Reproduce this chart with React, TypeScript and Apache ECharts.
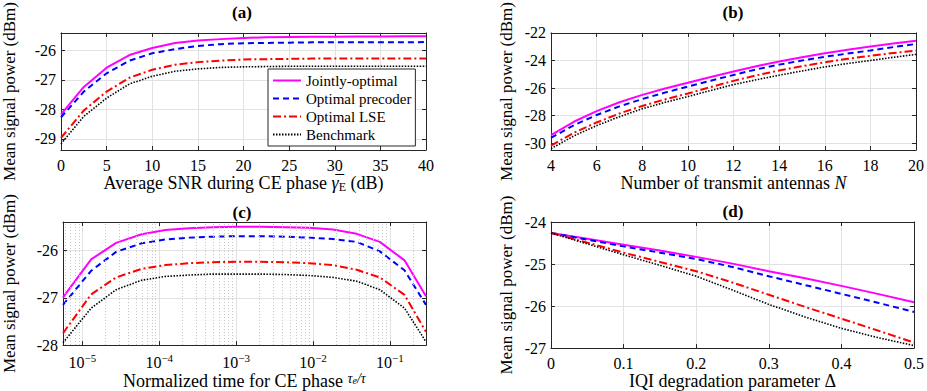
import React, { useEffect, useRef } from 'react';
import * as echarts from 'echarts';

const FONT = "'Liberation Serif', 'Times New Roman', Times, serif";
const AXIS_COLOR = '#262626';
const GRID_COLOR = '#e2e2e2';

// ---------- Panel (a): average SNR during CE phase (dB)
const snrDb = [0, 2.5, 5, 7.5, 10, 12.5, 15, 17.5, 20, 22.5, 25, 27.5, 30, 32.5, 35, 37.5, 40];
const aJoint = [-28.17, -27.24, -26.59, -26.16, -25.92, -25.75, -25.67, -25.62, -25.58, -25.56, -25.55, -25.54, -25.54, -25.53, -25.53, -25.52, -25.52];
const aPrecoder = [-28.27, -27.4, -26.78, -26.35, -26.1, -25.96, -25.85, -25.79, -25.76, -25.75, -25.74, -25.73, -25.73, -25.73, -25.73, -25.73, -25.72];
const aLse = [-28.97, -28.04, -27.4, -26.93, -26.66, -26.49, -26.4, -26.35, -26.31, -26.3, -26.29, -26.28, -26.28, -26.28, -26.28, -26.28, -26.28];
const aBench = [-29.17, -28.24, -27.62, -27.14, -26.88, -26.71, -26.63, -26.58, -26.56, -26.55, -26.54, -26.54, -26.54, -26.54, -26.54, -26.54, -26.54];

// ---------- Panel (b): number of transmit antennas N
const antennas = [4, 5, 6, 7, 8, 9, 10, 11, 12, 13, 14, 15, 16, 17, 18, 19, 20];
const bJoint = [-29.42, -28.45, -27.68, -27.03, -26.5, -26.03, -25.62, -25.2, -24.8, -24.42, -24.07, -23.76, -23.47, -23.22, -22.99, -22.77, -22.56];
const bPrecoder = [-29.62, -28.7, -27.96, -27.33, -26.8, -26.33, -25.9, -25.47, -25.05, -24.65, -24.3, -24.0, -23.73, -23.5, -23.27, -23.03, -22.8];
const bLse = [-30.18, -29.25, -28.5, -27.85, -27.3, -26.83, -26.4, -25.93, -25.48, -25.08, -24.73, -24.42, -24.13, -23.88, -23.66, -23.46, -23.28];
const bBench = [-30.4, -29.48, -28.73, -28.08, -27.51, -27.04, -26.62, -26.18, -25.75, -25.4, -25.07, -24.76, -24.47, -24.22, -24.0, -23.77, -23.56];

// ---------- Panel (c): normalized time for CE phase (log scale)
const timeRatio = [5.6e-6, 1.3e-5, 2.75e-5, 5.9e-5, 1.2e-4, 2.45e-4, 5.0e-4, 1.02e-3, 2.1e-3, 4.4e-3, 8.9e-3, 1.82e-2, 3.7e-2, 7.4e-2, 1.55e-1, 2.95e-1];
const cJoint = [-26.99, -26.19, -25.84, -25.66, -25.57, -25.53, -25.51, -25.5, -25.5, -25.51, -25.52, -25.56, -25.65, -25.82, -26.21, -26.97];
const cPrecoder = [-27.15, -26.43, -26.03, -25.85, -25.77, -25.73, -25.71, -25.7, -25.7, -25.71, -25.73, -25.76, -25.82, -26.02, -26.42, -27.15];
const cLse = [-27.75, -26.93, -26.57, -26.39, -26.31, -26.27, -26.25, -26.24, -26.24, -26.25, -26.27, -26.31, -26.41, -26.57, -26.94, -27.72];
const cBench = [-27.95, -27.22, -26.83, -26.63, -26.55, -26.52, -26.5, -26.5, -26.5, -26.51, -26.53, -26.57, -26.65, -26.83, -27.22, -27.93];

// ---------- Panel (d): IQI degradation parameter
const iqiDelta = [0, 0.05, 0.1, 0.15, 0.2, 0.25, 0.3, 0.35, 0.4, 0.45, 0.5];
const dJoint = [-24.26, -24.4, -24.54, -24.68, -24.83, -24.99, -25.17, -25.34, -25.52, -25.71, -25.91];
const dPrecoder = [-24.26, -24.42, -24.58, -24.73, -24.88, -25.07, -25.29, -25.5, -25.71, -25.92, -26.14];
const dLse = [-24.26, -24.49, -24.73, -24.95, -25.17, -25.44, -25.73, -26.02, -26.3, -26.58, -26.87];
const dBench = [-24.26, -24.52, -24.78, -25.03, -25.29, -25.62, -25.96, -26.26, -26.53, -26.75, -26.94];

const seriesNames = ['Jointly-optimal', 'Optimal precoder', 'Optimal LSE', 'Benchmark'];
const seriesColors = ['#ff00ff', '#0000ff', '#ff0000', '#000000'];
const seriesDash: any[] = ['solid', [6, 4], [8, 3, 2, 3], [1.5, 1.5]];
const seriesWidth = [2, 2, 2, 1.6];

const panelTitles = ['(a)', '(b)', '(c)', '(d)'];

const grids = [
  { left: 60, top: 22, width: 366, height: 128 },
  { left: 551, top: 22, width: 366, height: 128 },
  { left: 60, top: 222, width: 366, height: 129 },
  { left: 551, top: 222, width: 366, height: 128 },
];

const titlePos = [
  [242, 12.5],
  [733, 12.5],
  [242, 212.5],
  [733, 211.5],
];

function buildOption() {
  const tick = { show: true, inside: true, length: 4, lineStyle: { color: AXIS_COLOR, width: 1 } };
  const line = { show: true, onZero: false, lineStyle: { color: AXIS_COLOR, width: 1 } };
  const labelText = { fontFamily: FONT, fontSize: 16, color: '#000' };
  const nameText = { fontFamily: FONT, fontSize: 18, color: '#000' };
  const split = { show: true, lineStyle: { color: GRID_COLOR, width: 1 } };
  const intOnly = (v: number) => (Math.abs(v - Math.round(v)) < 1e-6 ? String(Math.round(v)) : '');

  const xAxes: any[] = [];
  const yAxes: any[] = [];

  const addX = (gi: number, base: any, bottomExtra: any) => {
    xAxes.push({
      gridIndex: gi, position: 'bottom', ...base,
      axisLine: line, axisTick: tick, splitLine: split,
      axisLabel: { ...labelText, margin: 7, ...(bottomExtra.axisLabel || {}) },
      nameLocation: 'middle', nameTextStyle: { ...nameText, ...(bottomExtra.nameTextStyle || {}) },
      name: bottomExtra.name, nameGap: bottomExtra.nameGap,
    });
    xAxes.push({
      gridIndex: gi, position: 'top', ...base,
      axisLine: line, axisTick: tick, splitLine: { show: false }, axisLabel: { show: false },
    });
  };
  const addY = (gi: number, base: any, nameGap: number) => {
    yAxes.push({
      gridIndex: gi, position: 'left', type: 'value', ...base,
      axisLine: line, axisTick: tick, splitLine: split,
      axisLabel: { ...labelText, margin: 5, formatter: intOnly },
      name: 'Mean signal power (dBm)', nameLocation: 'middle', nameGap,
      nameTextStyle: { fontFamily: FONT, fontSize: 17, color: '#000' },
    });
    yAxes.push({
      gridIndex: gi, position: 'right', type: 'value', ...base,
      axisLine: line, axisTick: tick, splitLine: { show: false }, axisLabel: { show: false },
    });
  };

  // (a)
  addX(0, { type: 'value', min: 0, max: 40, interval: 5 }, {
    name: '{n|Average SNR during CE phase }{g|\u03B3\u0305}{s|E}{n| (dB)}',
    nameGap: 18,
    nameTextStyle: {
      rich: {
        n: { fontFamily: FONT, fontSize: 18, color: '#000' },
        g: { fontFamily: FONT, fontSize: 18, fontStyle: 'italic', color: '#000' },
        s: { fontFamily: FONT, fontSize: 12, color: '#000', padding: [9, 0, 0, 0] },
      },
    },
  });
  addY(0, { min: -29.38, max: -25.41, minInterval: 1, maxInterval: 1 }, 43);

  // (b)
  addX(1, { type: 'value', min: 4, max: 20, interval: 2 }, {
    name: '{n|Number of transmit antennas }{i|N}',
    nameGap: 18,
    nameTextStyle: {
      rich: {
        n: { fontFamily: FONT, fontSize: 18, color: '#000' },
        i: { fontFamily: FONT, fontSize: 18, fontStyle: 'italic', color: '#000' },
      },
    },
  });
  addY(1, { min: -30.5, max: -22, minInterval: 2, maxInterval: 2 }, 36);

  // (c)
  const tMin = timeRatio[0];
  const tMax = timeRatio[timeRatio.length - 1];
  addX(2, { type: 'log', logBase: 10, min: tMin, max: tMax }, {
    name: '{n|Normalized time for CE phase }{f|\u03C4}{fs|e}{f|/\u03C4}',
    nameGap: 22,
    axisLabel: {
      formatter: (v: number) => {
        const e = Math.log10(v);
        if (Math.abs(e - Math.round(e)) > 1e-6) return '';
        return '{b|10}{e|\u2212' + Math.abs(Math.round(e)) + '}';
      },
      rich: {
        b: { fontFamily: FONT, fontSize: 16, color: '#000' },
        e: { fontFamily: FONT, fontSize: 11, color: '#000', padding: [0, 0, 9, 0] },
      },
    },
    nameTextStyle: {
      rich: {
        n: { fontFamily: FONT, fontSize: 18, color: '#000' },
        f: { fontFamily: FONT, fontSize: 14, fontStyle: 'italic', color: '#000', padding: [0, 0, 6, 0] },
        fs: { fontFamily: FONT, fontSize: 10, fontStyle: 'italic', color: '#000', padding: [0, 0, 2, 0] },
      },
    },
  });
  addY(2, { min: -28, max: -25.4, minInterval: 1, maxInterval: 1 }, 45);

  // (d)
  addX(3, { type: 'value', min: 0, max: 0.5, interval: 0.1 }, {
    name: 'IQI degradation parameter \u0394',
    nameGap: 22,
  });
  addY(3, { min: -27, max: -24, minInterval: 1, maxInterval: 1 }, 36);

  const panelData = [
    { x: snrDb, ys: [aJoint, aPrecoder, aLse, aBench] },
    { x: antennas, ys: [bJoint, bPrecoder, bLse, bBench] },
    { x: timeRatio, ys: [cJoint, cPrecoder, cLse, cBench] },
    { x: iqiDelta, ys: [dJoint, dPrecoder, dLse, dBench] },
  ];

  const series: any[] = [];

  // minor log grid lines for panel (c)
  const minorVals: number[] = [];
  for (let k = -6; k <= 0; k++) {
    for (let m = 2; m <= 9; m++) {
      const v = m * Math.pow(10, k);
      if (v > tMin && v < tMax) minorVals.push(v);
    }
  }
  series.push({
    type: 'line', name: 'minor-grid', xAxisIndex: 4, yAxisIndex: 4, data: [], z: 1,
    silent: true,
    markLine: {
      silent: true, symbol: ['none', 'none'], label: { show: false },
      precision: 20,
      lineStyle: { color: '#c4c4c4', type: [1, 2], width: 1 },
      emphasis: { disabled: true },
      data: minorVals.map((v) => ({ xAxis: v })),
    },
  });

  panelData.forEach((p, pi) => {
    p.ys.forEach((ys, si) => {
      series.push({
        type: 'line',
        name: seriesNames[si],
        xAxisIndex: pi * 2,
        yAxisIndex: pi * 2,
        data: p.x.map((xv, i) => [xv, ys[i]]),
        symbol: 'none',
        showSymbol: false,
        clip: true,
        z: 3 + si,
        lineStyle: { color: seriesColors[si], width: seriesWidth[si], type: seriesDash[si] },
        itemStyle: { color: seriesColors[si] },
        emphasis: { disabled: true },
      });
    });
  });

  return {
    animation: false,
    backgroundColor: '#ffffff',
    textStyle: { fontFamily: FONT },
    grid: grids,
    xAxis: xAxes,
    yAxis: yAxes,
    legend: {
      data: seriesNames,
      orient: 'vertical',
      left: 268,
      top: 69,
      padding: [4, 4, 4, 4],
      itemGap: 3,
      itemWidth: 28,
      itemHeight: 14,
      borderColor: AXIS_COLOR,
      borderWidth: 1,
      backgroundColor: '#ffffff',
      selectedMode: false,
      itemStyle: { opacity: 0 },
      textStyle: { fontFamily: FONT, fontSize: 15, color: '#000' },
    },
    graphic: panelTitles.map((t, i) => ({
      type: 'text',
      x: titlePos[i][0],
      y: titlePos[i][1],
      style: {
        text: t, align: 'center', verticalAlign: 'middle',
        fontFamily: FONT, fontSize: 17, fontWeight: 'bold', fill: '#000',
      },
    })),
    series,
  };
}

export default function App() {
  const ref = useRef<HTMLDivElement>(null);
  useEffect(() => {
    document.body.style.margin = '0';
    const chart = echarts.init(ref.current as HTMLDivElement, null, { renderer: 'svg' });
    chart.setOption(buildOption() as any);
    return () => chart.dispose();
  }, []);
  return <div ref={ref} style={{ width: 927, height: 391 }} />;
}
